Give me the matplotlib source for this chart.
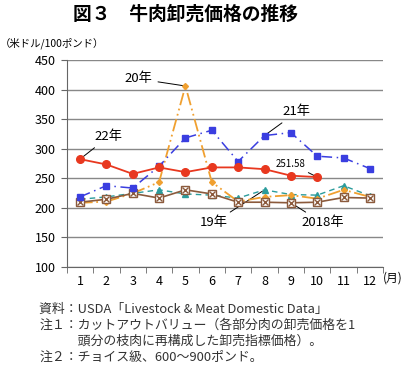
import numpy as np
import matplotlib
matplotlib.use("Agg")
from matplotlib import pyplot as plt

plt.rcParams['font.family'] = ['Noto Sans CJK JP', 'DejaVu Sans']

months = list(range(1, 13))
y22 = [282, 273, 257, 268, 260, 268, 268, 265, 254, 251.58]
y21 = [218, 237, 233, 270, 318, 331, 278, 322, 327, 287, 284, 266]
y20 = [208, 210, 224, 243, 406, 243, 210, 218, 221, 215, 230, 218]
y19 = [214, 218, 224, 230, 223, 221, 216, 230, 222, 221, 237, 220]
y18 = [209, 214, 224, 216, 230, 223, 209, 209, 208, 209, 217, 216]

fig = plt.figure(figsize=(4.05, 3.73), dpi=100)
ax = fig.add_axes([0.165, 0.2855, 0.781, 0.5535])

x = np.array(months)
ax.plot(x[:len(y22)], y22, color='#e8381f', lw=1.3, marker='o', ms=5.5, zorder=6)
ax.plot(x, y21, color='#3a3ee0', lw=1.1, ls=(0, (7, 3, 1, 3)), marker='s', ms=4.5, zorder=5)
ax.plot(x, y20, color='#f0a030', lw=1.3, ls=(0, (7, 2, 1, 2, 1, 2)), marker='D', ms=3, zorder=4)
ax.plot(x, y19, color='#2b9c9c', lw=1.0, ls=(0, (4, 3)), marker='^', ms=4.5, zorder=3)
ax.plot(x, y18, color='#8b5a3c', lw=1.2, marker='s', ms=5.5, mfc='white', mec='#8b5a3c', zorder=4)
ax.plot(x, y18, ls='none', marker='x', ms=4.5, mec='#8b5a3c', mew=1.0, zorder=4)

ax.set_xlim(0.5, 12.5)
ax.set_ylim(100, 450)
ax.set_yticks(range(100, 451, 50))
ax.set_xticks(months)
ax.set_xticks(np.arange(0.5, 13, 1), minor=True)
ax.tick_params(axis='x', which='major', length=0, pad=6, labelsize=9)
ax.tick_params(axis='x', which='minor', length=4, color='#666666')
ax.tick_params(axis='y', length=4, color='#666666', labelsize=9, pad=4)
ax.grid(axis='y', color='#888888', lw=1.0)
ax.set_axisbelow(True)
for s in ['top', 'right']:
    ax.spines[s].set_visible(False)
for s in ['left', 'bottom']:
    ax.spines[s].set_color('#666666')

# series labels
arrow = dict(arrowstyle='-', color='black', lw=0.7)
ax.annotate('20年', xy=(5, y20[4]), xytext=(3.75, 418), fontsize=9.5,
            ha='right', va='center', arrowprops=arrow)
ax.annotate('22年', xy=(1, y22[0]), xytext=(1.55, 320), fontsize=9.5,
            ha='left', va='center', arrowprops=arrow)
ax.annotate('21年', xy=(8, y21[7]), xytext=(8.7, 362), fontsize=9.5,
            ha='left', va='center', arrowprops=arrow)
ax.annotate('251.58', xy=(10, y22[9]), xytext=(9.55, 266), fontsize=7,
            ha='right', va='bottom', arrowprops=arrow)
ax.annotate('19年', xy=(8, y19[7]), xytext=(6.6, 174), fontsize=9.5,
            ha='right', va='center', arrowprops=arrow)
ax.annotate('2018年', xy=(9, y18[8]), xytext=(9.4, 174), fontsize=9.5,
            ha='left', va='center', arrowprops=arrow)

fig.text(0.457, 0.962, '図３　牛肉卸売価格の推移', fontsize=13.5, fontweight='bold',
         ha='center', va='center')
fig.text(0.0, 0.885, '（米ドル/100ポンド）', fontsize=7.5, ha='left', va='center')
fig.text(0.946, 0.255, '(月)', fontsize=8.5, ha='left', va='center')

notes = ['資料：USDA「Livestock & Meat Domestic Data」',
         '注１：カットアウトバリュー（各部分肉の卸売価格を1',
         '　　　頭分の枝肉に再構成した卸売指標価格）。',
         '注２：チョイス級、600～900ポンド。']
for i, t in enumerate(notes):
    fig.text(0.097, 0.1716 - i * 0.0434, t, fontsize=9.3, ha='left', va='center', color='#333333')

fig.savefig('out.png', dpi=100)
